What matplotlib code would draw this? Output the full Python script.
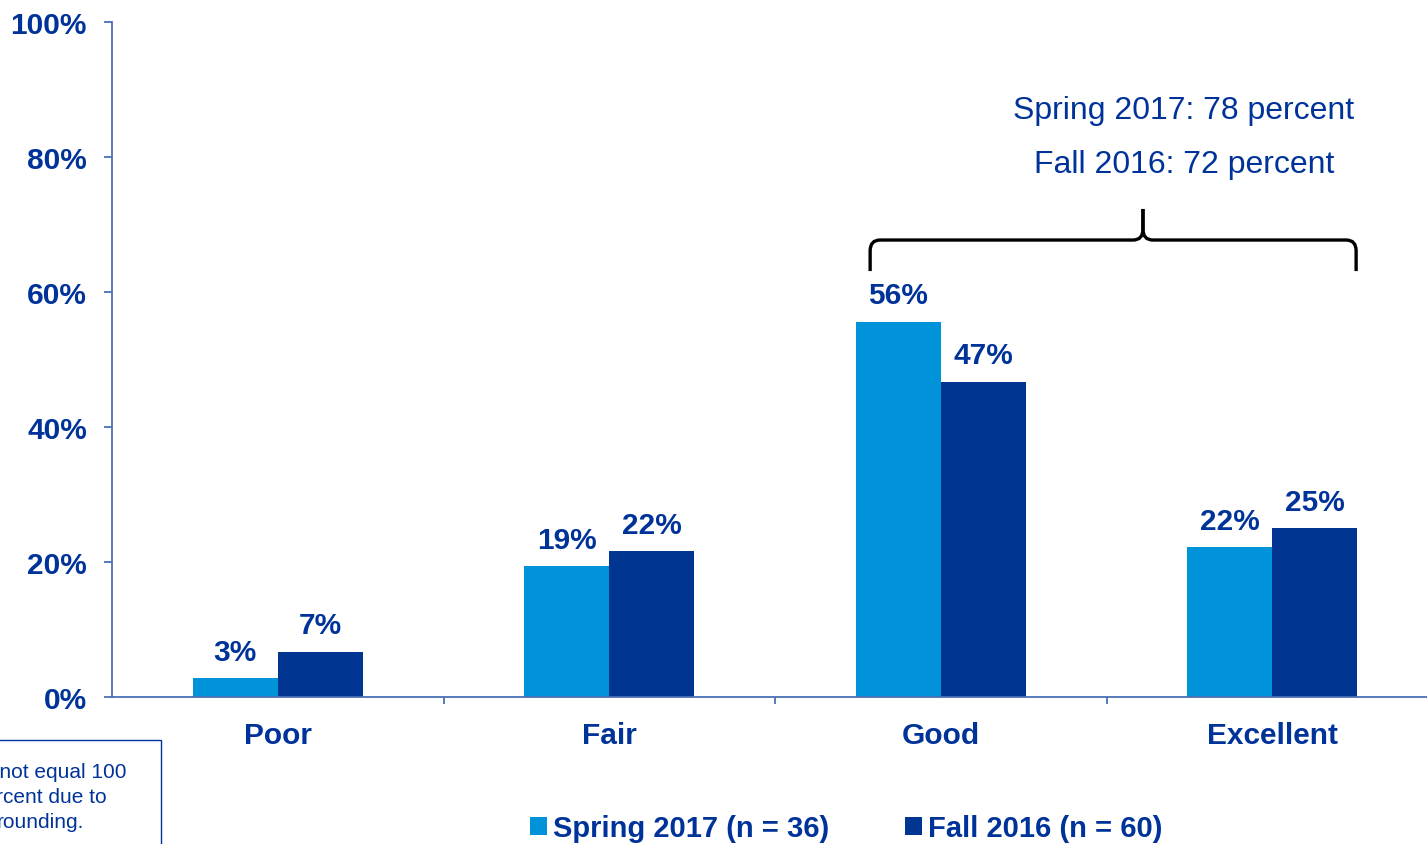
import matplotlib.pyplot as plt
from matplotlib.path import Path
from matplotlib.patches import PathPatch, Rectangle

plt.rcParams['font.family'] = ['Liberation Sans', 'DejaVu Sans']

# Datos del gráfico
categorias = ['Poor', 'Fair', 'Good', 'Excellent']
spring_2017 = [2.8, 19.4, 55.6, 22.2]
fall_2016 = [6.7, 21.6, 46.7, 25.0]
etiquetas_spring = ['3%', '19%', '56%', '22%']
etiquetas_fall = ['7%', '22%', '47%', '25%']
nombres_series = ['Spring 2017 (n = 36)', 'Fall 2016 (n = 60)']
texto_llave = ['Spring 2017: 78 percent', 'Fall 2016: 72 percent']
nota = ['may not equal 100', 'percent due to', 'rounding.']

color_spring = '#0093d9'
color_fall = '#003591'
color_texto = '#003399'
color_eje = '#4a6fb5'

fig = plt.figure(figsize=(14.27, 8.45), dpi=100)
ax = fig.add_axes([112 / 1427, 1 - 698 / 845, (1438 - 112) / 1427, (698 - 23) / 845])

ancho = 0.256
x = range(len(categorias))
barras_s = ax.bar([i - ancho / 2 for i in x], spring_2017, ancho, color=color_spring, label=nombres_series[0])
barras_f = ax.bar([i + ancho / 2 for i in x], fall_2016, ancho, color=color_fall, label=nombres_series[1])

# Etiquetas de datos encima de cada barra
for barras, etiquetas in [(barras_s, etiquetas_spring), (barras_f, etiquetas_fall)]:
    for b, t in zip(barras, etiquetas):
        ax.annotate(t, (b.get_x() + b.get_width() / 2, b.get_height()), xytext=(0, 19),
                    textcoords='offset points', ha='center', va='center',
                    fontsize=21.5, fontweight='bold', color=color_texto)

ax.set_xlim(-0.5, 3.5)
ax.set_ylim(0, 100)

# Ejes
for lado in ['top', 'right']:
    ax.spines[lado].set_visible(False)
for lado in ['left', 'bottom']:
    ax.spines[lado].set_color(color_eje)
    ax.spines[lado].set_linewidth(1.3)

ax.set_yticks(range(0, 101, 20))
ax.set_yticklabels([f'{v}%' for v in range(0, 101, 20)])
ax.tick_params(axis='y', length=6, width=1.3, color=color_eje, pad=12,
               labelsize=21.5, labelcolor=color_texto)
for t in ax.get_yticklabels():
    t.set_fontweight('bold')

ax.set_xticks([0.5, 1.5, 2.5])
ax.set_xticklabels([])
ax.tick_params(axis='x', which='major', length=5, width=1.3, color=color_eje)
ax.set_xticks(list(x), minor=True)
ax.set_xticklabels(categorias, minor=True)
ax.tick_params(axis='x', which='minor', length=0, pad=17, labelsize=21.5, labelcolor=color_texto)
for t in ax.get_xticklabels(minor=True):
    t.set_fontweight('bold')

# Llave sobre Good + Excellent
x0, x1, xm = 1.787, 3.253, 2.610
y_fin, y_h, y_top = 63.1, 67.7, 72.3
dx, dy = 0.03, 1.6
for s, xe in [(1, x0), (-1, x1)]:
    verts = [(xe, y_fin), (xe, y_h - dy), (xe, y_h), (xe + s * dx, y_h),
             (xm - s * dx, y_h), (xm, y_h), (xm, y_h + dy), (xm, y_top)]
    codes = [Path.MOVETO, Path.LINETO, Path.CURVE3, Path.CURVE3,
             Path.LINETO, Path.CURVE3, Path.CURVE3, Path.LINETO]
    ax.add_patch(PathPatch(Path(verts, codes), facecolor='none', edgecolor='black',
                           linewidth=2.4, clip_on=False))

ax.text(2.733, 87.0, texto_llave[0], ha='center', va='center', fontsize=23, color=color_texto)
ax.text(2.733, 79.0, texto_llave[1], ha='center', va='center', fontsize=23, color=color_texto)

# Leyenda
leg = ax.legend(loc='center', bbox_to_anchor=(846 / 1427, 1 - 829 / 845), bbox_transform=fig.transFigure,
                ncol=2, frameon=False, handlelength=0.58, handleheight=0.58, handletextpad=0.2,
                columnspacing=2.6, prop={'size': 21, 'weight': 'bold'}, labelcolor=color_texto)

# Nota en recuadro (cortada en el borde, como en el original)
fig.patches.append(Rectangle((-0.05, -0.05), 161 / 1427 + 0.05, 1 - 741 / 845 + 0.05,
                             transform=fig.transFigure, facecolor='white',
                             edgecolor=color_texto, linewidth=1.0))
for i, linea in enumerate(nota):
    fig.text(40 / 1427, 1 - (773 + i * 25) / 845, linea, ha='center', va='center',
             fontsize=15, color=color_texto)

fig.savefig('out.png', dpi=100)
